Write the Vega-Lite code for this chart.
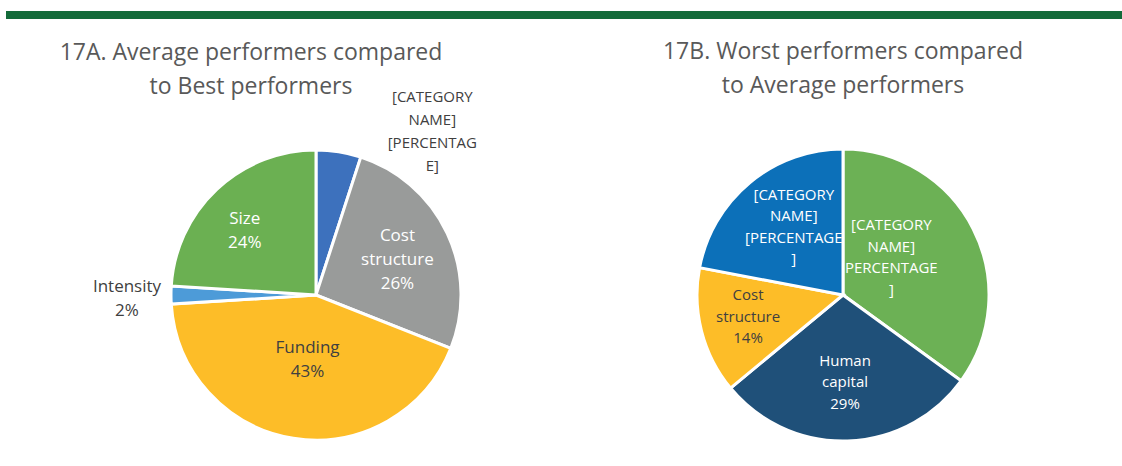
{
  "$schema": "https://vega.github.io/schema/vega-lite/v6.json",
  "background": "white",
  "padding": {"left": 6, "top": 9, "right": 0, "bottom": 21},
  "bounds": "flush",
  "spacing": 126,
  "config": {
    "view": {"stroke": null},
    "font": "Open Sans",
    "title": {"font": "Open Sans", "fontSize": 23, "fontWeight": "normal", "color": "#595959", "lineHeight": 34, "anchor": "middle", "frame": "group"}
  },
  "vconcat": [
    {
      "width": 1116,
      "height": 8,
      "view": {"fill": "#136B3A", "stroke": null},
      "data": {"values": [{"t": ""}]},
      "mark": {"type": "text"},
      "encoding": {"text": {"field": "t"}}
    },
    {
      "spacing": 0,
      "bounds": "flush",
      "resolve": {"scale": {"color": "independent", "theta": "independent"}},
      "hconcat": [
        {
          "width": 620,
          "height": 300,
          "title": {"text": ["17A. Average performers compared", "to Best performers"], "dx": -65, "offset": -27, "baseline": "alphabetic"},
          "data": {"values": [
            {"slice": "[CATEGORY NAME]", "value": 5, "order": 1, "label": "[CATEGORY\nNAME]\n[PERCENTAG\nE]"},
            {"slice": "Cost structure", "value": 26, "order": 2, "label": "Cost\nstructure\n26%"},
            {"slice": "Funding", "value": 43, "order": 3, "label": "Funding\n43%"},
            {"slice": "Intensity", "value": 2, "order": 4, "label": "Intensity\n2%"},
            {"slice": "Size", "value": 24, "order": 5, "label": "Size\n24%"}
          ]},
          "encoding": {
            "theta": {"field": "value", "type": "quantitative", "stack": true},
            "order": {"field": "order", "type": "quantitative"},
            "detail": {"field": "slice", "type": "nominal"}
          },
          "layer": [
            {
              "mark": {"type": "arc", "outerRadius": 145, "stroke": "white", "strokeWidth": 3},
              "encoding": {
                "color": {"field": "slice", "type": "nominal", "legend": null,
                  "scale": {"domain": ["[CATEGORY NAME]", "Cost structure", "Funding", "Intensity", "Size"],
                            "range": ["#3D71BD", "#999B9A", "#FDBD28", "#4D9BD8", "#6BB052"]}}
              }
            },
            {
              "mark": {"type": "text", "radius": 90, "dy": -21, "fontSize": 17, "lineHeight": 24, "lineBreak": "\n", "fill": "white"},
              "encoding": {"text": {"condition": {"test": "datum.slice === 'Cost structure'", "field": "label"}, "value": ""}}
            },
            {
              "mark": {"type": "text", "radius": 104, "fontSize": 17, "lineHeight": 24, "lineBreak": "\n", "fill": "white"},
              "encoding": {"text": {"condition": {"test": "datum.slice === 'Size'", "field": "label"}, "value": ""}}
            },
            {
              "mark": {"type": "text", "radius": 54, "fontSize": 17, "lineHeight": 24, "lineBreak": "\n", "fill": "#404040"},
              "encoding": {"text": {"condition": {"test": "datum.slice === 'Funding'", "field": "label"}, "value": ""}}
            },
            {
              "mark": {"type": "text", "radius": 140, "dx": -49, "dy": -8, "fontSize": 17, "lineHeight": 24, "lineBreak": "\n", "fill": "#404040"},
              "encoding": {"text": {"condition": {"test": "datum.slice === 'Intensity'", "field": "label"}, "value": ""}}
            },
            {
              "mark": {"type": "text", "radius": 130, "dx": 96, "dy": -70, "fontSize": 15, "lineHeight": 23, "lineBreak": "\n", "fill": "#404040"},
              "encoding": {"text": {"condition": {"test": "datum.slice === '[CATEGORY NAME]'", "field": "label"}, "value": ""}}
            }
          ]
        },
        {
          "width": 434,
          "height": 300,
          "title": {"text": ["17B. Worst performers compared", "to Average performers"], "offset": 27, "baseline": "alphabetic"},
          "data": {"values": [
            {"slice": "[CATEGORY NAME] A", "value": 35, "order": 1, "label": "[CATEGORY\nNAME]\nPERCENTAGE\n]"},
            {"slice": "Human capital", "value": 29, "order": 2, "label": "Human\ncapital\n29%"},
            {"slice": "Cost structure", "value": 14, "order": 3, "label": "Cost\nstructure\n14%"},
            {"slice": "[CATEGORY NAME] B", "value": 22, "order": 4, "label": "[CATEGORY\nNAME]\n[PERCENTAGE\n]"}
          ]},
          "encoding": {
            "theta": {"field": "value", "type": "quantitative", "stack": true},
            "order": {"field": "order", "type": "quantitative"},
            "detail": {"field": "slice", "type": "nominal"}
          },
          "layer": [
            {
              "mark": {"type": "arc", "outerRadius": 146, "stroke": "white", "strokeWidth": 3},
              "encoding": {
                "color": {"field": "slice", "type": "nominal", "legend": null,
                  "scale": {"domain": ["[CATEGORY NAME] A", "Human capital", "Cost structure", "[CATEGORY NAME] B"],
                            "range": ["#6CB155", "#1F5079", "#FDBD28", "#0C70B9"]}}
              }
            },
            {
              "mark": {"type": "text", "radius": 61, "dx": -6, "dy": -42, "fontSize": 15, "lineHeight": 21.5, "lineBreak": "\n", "fill": "white"},
              "encoding": {"text": {"condition": {"test": "datum.slice === '[CATEGORY NAME] A'", "field": "label"}, "value": ""}}
            },
            {
              "mark": {"type": "text", "radius": 66, "fontSize": 15, "lineHeight": 21.5, "lineBreak": "\n", "fill": "white"},
              "encoding": {"text": {"condition": {"test": "datum.slice === 'Human capital'", "field": "label"}, "value": ""}}
            },
            {
              "mark": {"type": "text", "radius": 85, "dx": 5, "dy": -35, "fontSize": 15, "lineHeight": 21.5, "lineBreak": "\n", "fill": "white"},
              "encoding": {"text": {"condition": {"test": "datum.slice === '[CATEGORY NAME] B'", "field": "label"}, "value": ""}}
            },
            {
              "mark": {"type": "text", "radius": 98, "dy": -24, "fontSize": 15, "lineHeight": 21.5, "lineBreak": "\n", "fill": "#404040"},
              "encoding": {"text": {"condition": {"test": "datum.slice === 'Cost structure'", "field": "label"}, "value": ""}}
            }
          ]
        }
      ]
    }
  ]
}
